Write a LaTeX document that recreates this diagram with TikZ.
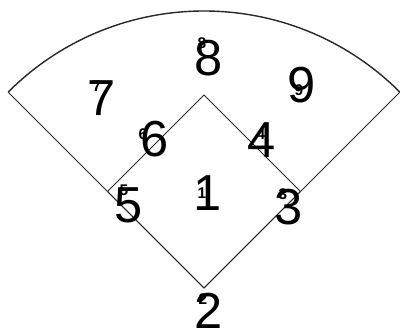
\documentclass[tikz,border=0pt]{standalone}
\usepackage{fontspec}
\setmainfont{Liberation Sans}
\usetikzlibrary{positioning,calc}
\definecolor{lineblack}{RGB}{40,40,40}

\begin{document}
\begin{tikzpicture}[
    posnum/.style={inner sep=0pt, font=\fontsize{36}{36}\selectfont},
    tagnum/.style={inner sep=0pt, font=\bfseries\fontsize{11}{11}\selectfont},
    fieldline/.style={lineblack, line width=0.7pt}]
        \useasboundingbox (0,0) rectangle (10,8.35);
        % Bases
        \coordinate (home) at (5.1,1.15);
        \coordinate (first) at (7.5125,3.5625);
        \coordinate (second) at (5.1,5.975);
        \coordinate (third) at (2.6875,3.5625);
        \coordinate (leftpole) at ($(home)+(135:6.925)$);
        \coordinate (rightpole) at ($(home)+(45:6.925)$);

        % Field
        \draw[fieldline] (home) -- (first) -- (second) -- (third) -- cycle;
        \draw[fieldline] (home) -- (leftpole);
        \draw[fieldline] (home) -- (rightpole);
        \draw[fieldline, line width=1pt] (leftpole) arc[start angle=135, end angle=45, radius=6.925];

        % Positions
        \node[posnum] (p1) at (5.2,3.525) {1};
        \node[posnum] (p2) at (5.225,0.57) {2};
        \node[posnum] (p3) at (7.225,3.175) {3};
        \node[posnum] (p4) at (6.55,4.85) {4};
        \node[posnum] (p5) at (3.225,3.225) {5};
        \node[posnum] (p6) at (3.875,4.875) {6};
        \node[posnum] (p7) at (2.55,5.9) {7};
        \node[posnum] (p8) at (5.225,6.9) {8};
        \node[posnum] (p9) at (7.55,6.225) {9};

        % Small tags
        \node[tagnum] (t1) at (5.05,3.525) {1};
        \node[tagnum] (t2) at (5.075,0.875) {2};
        \node[tagnum] (t3) at (7.075,3.5) {3};
        \node[tagnum] (t4) at (6.525,5.0) {4};
        \node[tagnum] (t5) at (3.1,3.6) {5};
        \node[tagnum] (t6) at (3.575,5.0) {6};
        \node[tagnum] (t7) at (2.425,6.2) {7};
        \node[tagnum] (t8) at (5.05,7.275) {8};
        \node[tagnum] (t9) at (7.475,6.1) {9};
\end{tikzpicture}
\end{document}
